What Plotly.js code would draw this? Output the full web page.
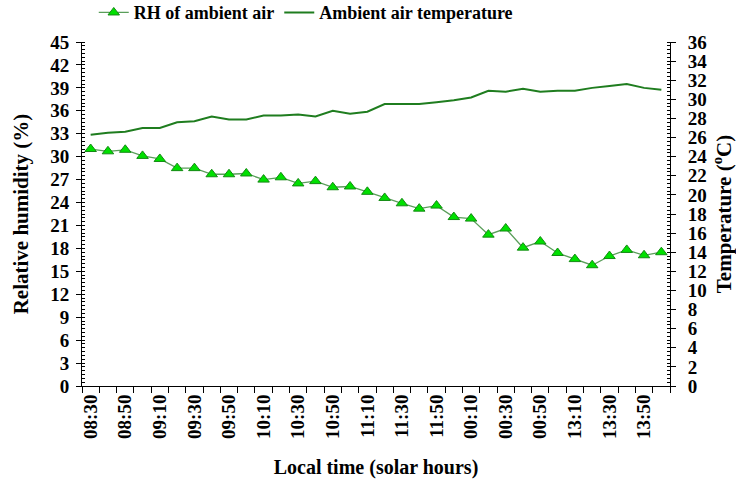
<!DOCTYPE html>
<html><head><meta charset="utf-8">
<script src="https://cdn.plot.ly/plotly-3.0.1.min.js"></script>
<style>html,body{margin:0;padding:0;background:#fff}</style>
</head><body><div id="chart" style="width:736px;height:486px"></div>
<script>
const times = ["08:30","08:40","08:50","09:00","09:10","09:20","09:30","09:40","09:50",
  "10:00","10:10","10:20","10:30","10:40","10:50","11:00","11:10","11:20","11:30","11:40","11:50",
  "00:00","00:10","00:20","00:30","00:40","00:50","13:00","13:10","13:20","13:30","13:40","13:50","14:00"];
const shownTicks = ["08:30","08:50","09:10","09:30","09:50","10:10","10:30","10:50","11:10","11:30","11:50",
  "00:10","00:30","00:50","13:10","13:30","13:50"];
const rhAmbient = [31.0,30.7,30.9,30.1,29.7,28.5,28.5,27.7,27.7,27.8,27.0,27.3,26.5,26.8,26.0,26.1,25.4,
  24.6,23.9,23.2,23.6,22.1,21.9,19.8,20.6,18.1,18.9,17.4,16.6,15.8,17.0,17.8,17.1,17.5];
const tempAmbient = [26.3,26.5,26.6,27.0,27.0,27.6,27.7,28.2,27.9,27.9,28.3,28.3,28.4,28.2,28.8,28.5,28.7,
  29.5,29.5,29.5,29.7,29.9,30.2,30.9,30.8,31.1,30.8,30.9,30.9,31.2,31.4,31.6,31.2,31.0];

const FONT = "Liberation Serif, Times New Roman, serif";
const tickText = times.map(t => shownTicks.includes(t) ? "<b>" + t + "</b>" : " ");

const traces = [
  {x: times, y: rhAmbient, name: "<b>RH of ambient air</b>", type: "scatter", mode: "lines+markers",
   line: {color: "#5a9e5a", width: 1.3},
   marker: {symbol: "triangle-up", size: 10, color: "#00e000", line: {color: "#138a13", width: 1}}},
  {x: times, y: tempAmbient, name: "<b>Ambient air temperature</b>", type: "scatter", mode: "lines",
   yaxis: "y2", line: {color: "#1f7d1f", width: 2}}
];

const layout = {
  width: 736, height: 486,
  margin: {l: 82, r: 66, t: 42, b: 100, autoexpand: false},
  paper_bgcolor: "#fff", plot_bgcolor: "#fff",
  font: {family: FONT, color: "#000", size: 19},
  showlegend: true,
  legend: {orientation: "h", x: 0.02, xanchor: "left", y: 1.085, yanchor: "middle",
    font: {family: FONT, size: 18, color: "#000"}, bgcolor: "rgba(0,0,0,0)"},
  xaxis: {
    type: "category", tickmode: "array", tickvals: times, ticktext: tickText,
    tickson: "boundaries", ticks: "outside", ticklen: 6, tickcolor: "#000",
    tickangle: -90, tickfont: {family: FONT, size: 19, color: "#000"},
    showline: true, linecolor: "#000", linewidth: 1, showgrid: false, zeroline: false,
    range: [-0.5, 33.5], automargin: false,
    title: {text: "<b>Local time (solar hours)</b>", font: {family: FONT, size: 20, color: "#000"}, standoff: 22}
  },
  yaxis: {
    range: [0, 45], tickmode: "linear", tick0: 0, dtick: 3,
    ticks: "outside", ticklen: 5, tickcolor: "#000", ticklabelstandoff: 3,
    minor: {dtick: 0.5, ticks: "inside", ticklen: 3, tickcolor: "#000", showgrid: false},
    tickfont: {family: FONT, size: 19, color: "#000"},
    tickprefix: "<b>", ticksuffix: "</b>",
    showline: true, linecolor: "#000", linewidth: 1, showgrid: false, zeroline: false, automargin: false,
    title: {text: "<b>Relative humidity (%)</b>", font: {family: FONT, size: 21, color: "#000"}, standoff: 15}
  },
  yaxis2: {
    overlaying: "y", side: "right", anchor: "x",
    range: [0, 36], tickmode: "linear", tick0: 0, dtick: 2,
    ticks: "outside", ticklen: 5, tickcolor: "#000", ticklabelstandoff: 8,
    minor: {dtick: 0.4, ticks: "inside", ticklen: 3, tickcolor: "#000", showgrid: false},
    tickfont: {family: FONT, size: 19, color: "#000"},
    tickprefix: "<b>", ticksuffix: "</b>",
    showline: true, linecolor: "#000", linewidth: 1, showgrid: false, zeroline: false, automargin: false,
    title: {text: "<b>Temperature (<sup>o</sup>C)</b>", font: {family: FONT, size: 21, color: "#000"}, standoff: 10}
  }
};

Plotly.newPlot("chart", traces, layout, {staticPlot: true, displayModeBar: false});
</script>
</body></html>
